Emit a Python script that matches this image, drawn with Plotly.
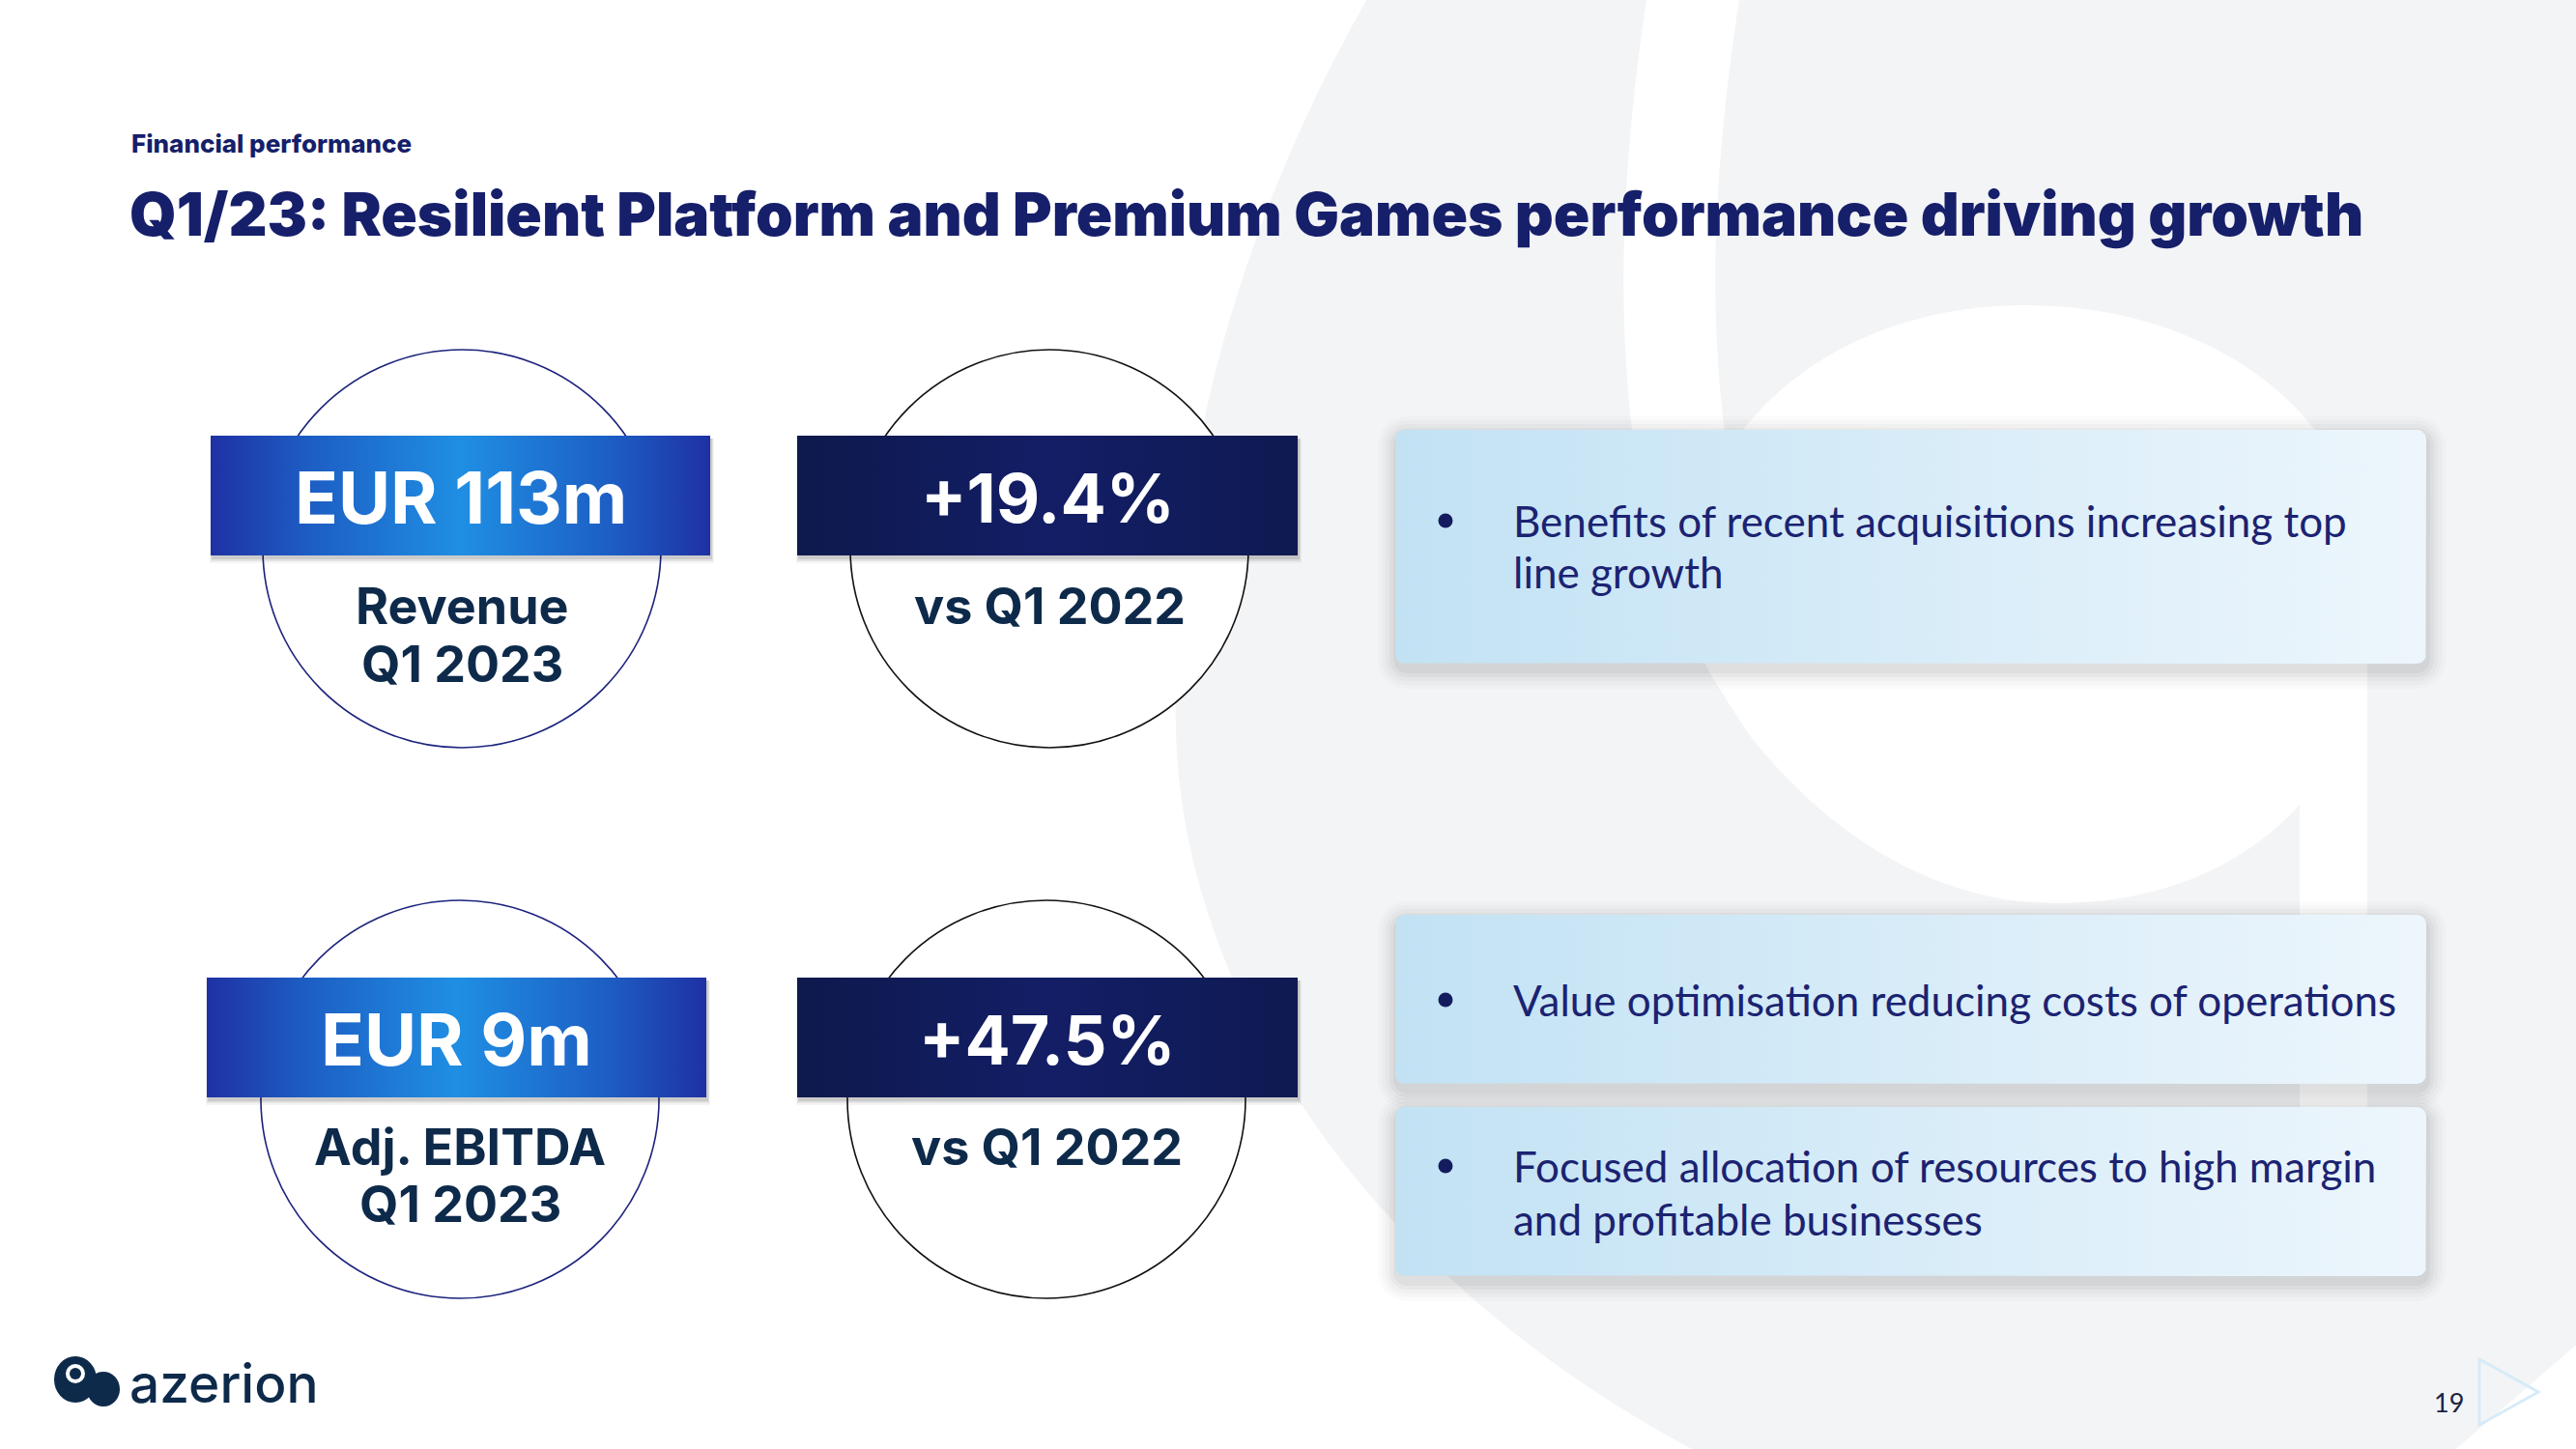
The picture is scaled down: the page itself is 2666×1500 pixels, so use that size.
import numpy as np
import plotly.graph_objects as go

# ---------------- content ----------------
section_label = "Financial performance"
title_text = "Q1/23: Resilient Platform and Premium Games performance driving growth"
kpi_values = ["EUR 113m", "EUR 9m"]
kpi_labels = [["Revenue", "Q1 2023"], ["Adj. EBITDA", "Q1 2023"]]
growth_values = ["+19.4%", "+47.5%"]
growth_labels = ["vs Q1 2022", "vs Q1 2022"]
card_texts = [
    ["Benefits of recent acquisitions increasing top", "line growth"],
    ["Value optimisation reducing costs of operations"],
    ["Focused allocation of resources to high margin", "and profitable businesses"],
]
page_number = "19"
brand = "azerion"

# ---------------- layout helpers ----------------
W, H = 2666, 1500
NAVY = "#161f6a"
DARK = "#0e2a4a"
HEAD_FONT = "Inter, Lato, sans-serif"
BODY_FONT = "Lato, 'Open Sans', sans-serif"


def rounded_rect(x0, y0, x1, y1, r=0.0, n=10):
    if r <= 0:
        return [x0, x1, x1, x0, x0], [y0, y0, y1, y1, y0]
    xs, ys = [], []
    corners = [(x1 - r, y0 + r, -90, 0), (x1 - r, y1 - r, 0, 90),
               (x0 + r, y1 - r, 90, 180), (x0 + r, y0 + r, 180, 270)]
    for cx, cy, a0, a1 in corners:
        for a in np.linspace(np.radians(a0), np.radians(a1), n):
            xs.append(cx + r * np.cos(a))
            ys.append(cy + r * np.sin(a))
    xs.append(xs[0]); ys.append(ys[0])
    return xs, ys


fig = go.Figure()
shapes = []
annotations = []

# ---------------- background logo shape ----------------
shapes.append(dict(type="path", xref="x", yref="y", layer="below",
                   path="M 1420 -10 C 1270 250 1205 520 1218 780 C 1236 1060 1440 1340 1770 1510 "
                        "L 2530 1510 L 2640 1415 L 2680 1380 L 2680 -10 Z",
                   fillcolor="#f3f4f6", line=dict(width=0)))
# white stroke from the top
shapes.append(dict(type="path", xref="x", yref="y", layer="below",
                   path="M 1755 -20 C 1728 150 1715 330 1745 500 C 1755 560 1765 600 1780 640",
                   line=dict(color="white", width=95)))
# white counter of the "a"
shapes.append(dict(type="path", xref="x", yref="y", layer="below",
                   path="M 1745 620 C 1745 440 1900 316 2095 316 C 2300 316 2450 440 2450 600 "
                        "L 2450 833 L 2380 833 C 2320 900 2230 935 2128 935 "
                        "C 1990 935 1880 850 1810 760 C 1770 700 1745 660 1745 620 Z",
                   fillcolor="white", line=dict(width=0)))
shapes.append(dict(type="rect", xref="x", yref="y", layer="below",
                   x0=2380, x1=2450, y0=820, y1=1320, fillcolor="white", line=dict(width=0)))

# ---------------- KPI circles + boxes ----------------
circle_centers = [[(478, 568), (1086, 568)], [(476, 1138), (1083, 1138)]]
circle_r = 206
circle_colors = ["#1c237c", "#111111"]
box_rects = [[(218, 451, 735, 575), (825, 451, 1343, 575)],
             [(214, 1012, 731, 1136), (825, 1012, 1343, 1136)]]
label_ys = [[627, 687], [1187, 1246]]
big_sizes = [74, 70]

blue_scale = [[0, "#1f31a4"], [0.2, "#1d5ec4"], [0.5, "#1f8fe3"], [0.8, "#1d5ec4"], [1, "#1f31a4"]]
navy_scale = [[0, "#0e194d"], [0.5, "#131e66"], [1, "#0f1a52"]]

for row in range(2):
    for col in range(2):
        cx, cy = circle_centers[row][col]
        shapes.append(dict(type="circle", xref="x", yref="y", layer="below",
                           x0=cx - circle_r, x1=cx + circle_r, y0=cy - circle_r, y1=cy + circle_r,
                           fillcolor="white", line=dict(color=circle_colors[col], width=1.6)))
        x0, y0, x1, y1 = box_rects[row][col]
        for k, a in enumerate([0.10, 0.07, 0.04]):
            sx, sy = rounded_rect(x0 + 1 - k, y0 + 3, x1 + 2 + k, y1 + 4 + 2 * k)
            fig.add_trace(go.Scatter(x=sx, y=sy, fill="toself", mode="lines", line=dict(width=0),
                                     fillcolor=f"rgba(0,0,0,{a})", hoverinfo="skip", showlegend=False))
        bx, by = rounded_rect(x0, y0, x1, y1)
        fig.add_trace(go.Scatter(x=bx, y=by, fill="toself", mode="lines", line=dict(width=0),
                                 fillgradient=dict(type="horizontal",
                                                   colorscale=blue_scale if col == 0 else navy_scale),
                                 hoverinfo="skip", showlegend=False))
        big = kpi_values[row] if col == 0 else growth_values[row]
        annotations.append(dict(x=(x0 + x1) / 2, y=(y0 + y1) / 2 + 2, text=big, showarrow=False,
                                xanchor="center", yanchor="middle",
                                font=dict(family=HEAD_FONT, size=big_sizes[col], color="white", weight=700)))
        lines = kpi_labels[row] if col == 0 else [growth_labels[row]]
        for i, t in enumerate(lines):
            annotations.append(dict(x=cx, y=label_ys[row][i], text=t, showarrow=False,
                                    xanchor="center", yanchor="middle",
                                    font=dict(family=HEAD_FONT, size=52, color=DARK, weight=700)))

# ---------------- right-hand cards ----------------
card_rects = [(1444, 445, 2511, 687), (1444, 947, 2511, 1122), (1444, 1146, 2511, 1321)]
card_line_ys = [[539, 592], [1035], [1207, 1262]]
card_scale = [[0, "#c2e2f4"], [1, "#edf6fc"]]
bullet_x, text_x = 1496, 1564
for i, (x0, y0, x1, y1) in enumerate(card_rects):
    for k, a in enumerate([0.035, 0.03, 0.025, 0.02, 0.015]):
        e = 4 + 4 * k
        sx, sy = rounded_rect(x0 - e + 2, y0 - e + 6, x1 + e, y1 + e + 6, r=10 + e)
        fig.add_trace(go.Scatter(x=sx, y=sy, fill="toself", mode="lines", line=dict(width=0),
                                 fillcolor=f"rgba(0,0,0,{a})", hoverinfo="skip", showlegend=False))
    cxs, cys = rounded_rect(x0, y0, x1, y1, r=10)
    fig.add_trace(go.Scatter(x=cxs, y=cys, fill="toself", mode="lines", line=dict(width=0),
                             fillgradient=dict(type="horizontal", colorscale=card_scale),
                             hoverinfo="skip", showlegend=False))
    fig.add_trace(go.Scatter(x=[bullet_x], y=[card_line_ys[i][0]], mode="markers",
                             marker=dict(size=15, color="#141c5e"), hoverinfo="skip", showlegend=False))
    for j, t in enumerate(card_texts[i]):
        annotations.append(dict(x=text_x, y=card_line_ys[i][j], text=t, showarrow=False,
                                xanchor="left", yanchor="middle",
                                font=dict(family=BODY_FONT, size=44, color="#1b2371")))

# ---------------- headings ----------------
annotations.append(dict(x=134, y=148, text=section_label, showarrow=False, xanchor="left",
                        yanchor="middle", font=dict(family=HEAD_FONT, size=26, color=NAVY, weight=800)))
annotations.append(dict(x=132, y=221, text=title_text, showarrow=False, xanchor="left",
                        yanchor="middle", font=dict(family=HEAD_FONT, size=62, color=NAVY, weight=900)))

# ---------------- footer ----------------
shapes.append(dict(type="circle", xref="x", yref="y", x0=56, x1=100, y0=1404, y1=1452,
                   fillcolor=DARK, line=dict(width=0)))
shapes.append(dict(type="circle", xref="x", yref="y", x0=90, x1=124, y0=1420, y1=1456,
                   fillcolor=DARK, line=dict(width=0)))
shapes.append(dict(type="circle", xref="x", yref="y", x0=68, x1=88, y0=1412, y1=1432,
                   fillcolor="white", line=dict(width=0)))
shapes.append(dict(type="circle", xref="x", yref="y", x0=72, x1=84, y0=1416, y1=1428,
                   fillcolor=DARK, line=dict(width=0)))
annotations.append(dict(x=132, y=1432, text=brand, showarrow=False, xanchor="left", yanchor="middle",
                        font=dict(family="Inter, Lato, sans-serif", size=55, color=DARK, weight=500)))
annotations.append(dict(x=2534, y=1451, text=page_number, showarrow=False, xanchor="center",
                        yanchor="middle", font=dict(family=BODY_FONT, size=27, color="#1b2240")))
shapes.append(dict(type="path", xref="x", yref="y",
                   path="M 2566 1407 L 2566 1475 L 2627 1441 Z",
                   fillcolor="rgba(0,0,0,0)", line=dict(color="#d6ebf8", width=3)))

fig.update_layout(
    width=W, height=H, autosize=False,
    margin=dict(l=0, r=0, t=0, b=0),
    paper_bgcolor="white", plot_bgcolor="white",
    xaxis=dict(range=[0, W], visible=False, fixedrange=True),
    yaxis=dict(range=[H, 0], visible=False, fixedrange=True),
    shapes=shapes, annotations=annotations, showlegend=False,
)

fig.write_html("out.html", config={"displayModeBar": False},
               post_script="document.body.style.margin='0px';document.body.style.overflow='hidden';")
